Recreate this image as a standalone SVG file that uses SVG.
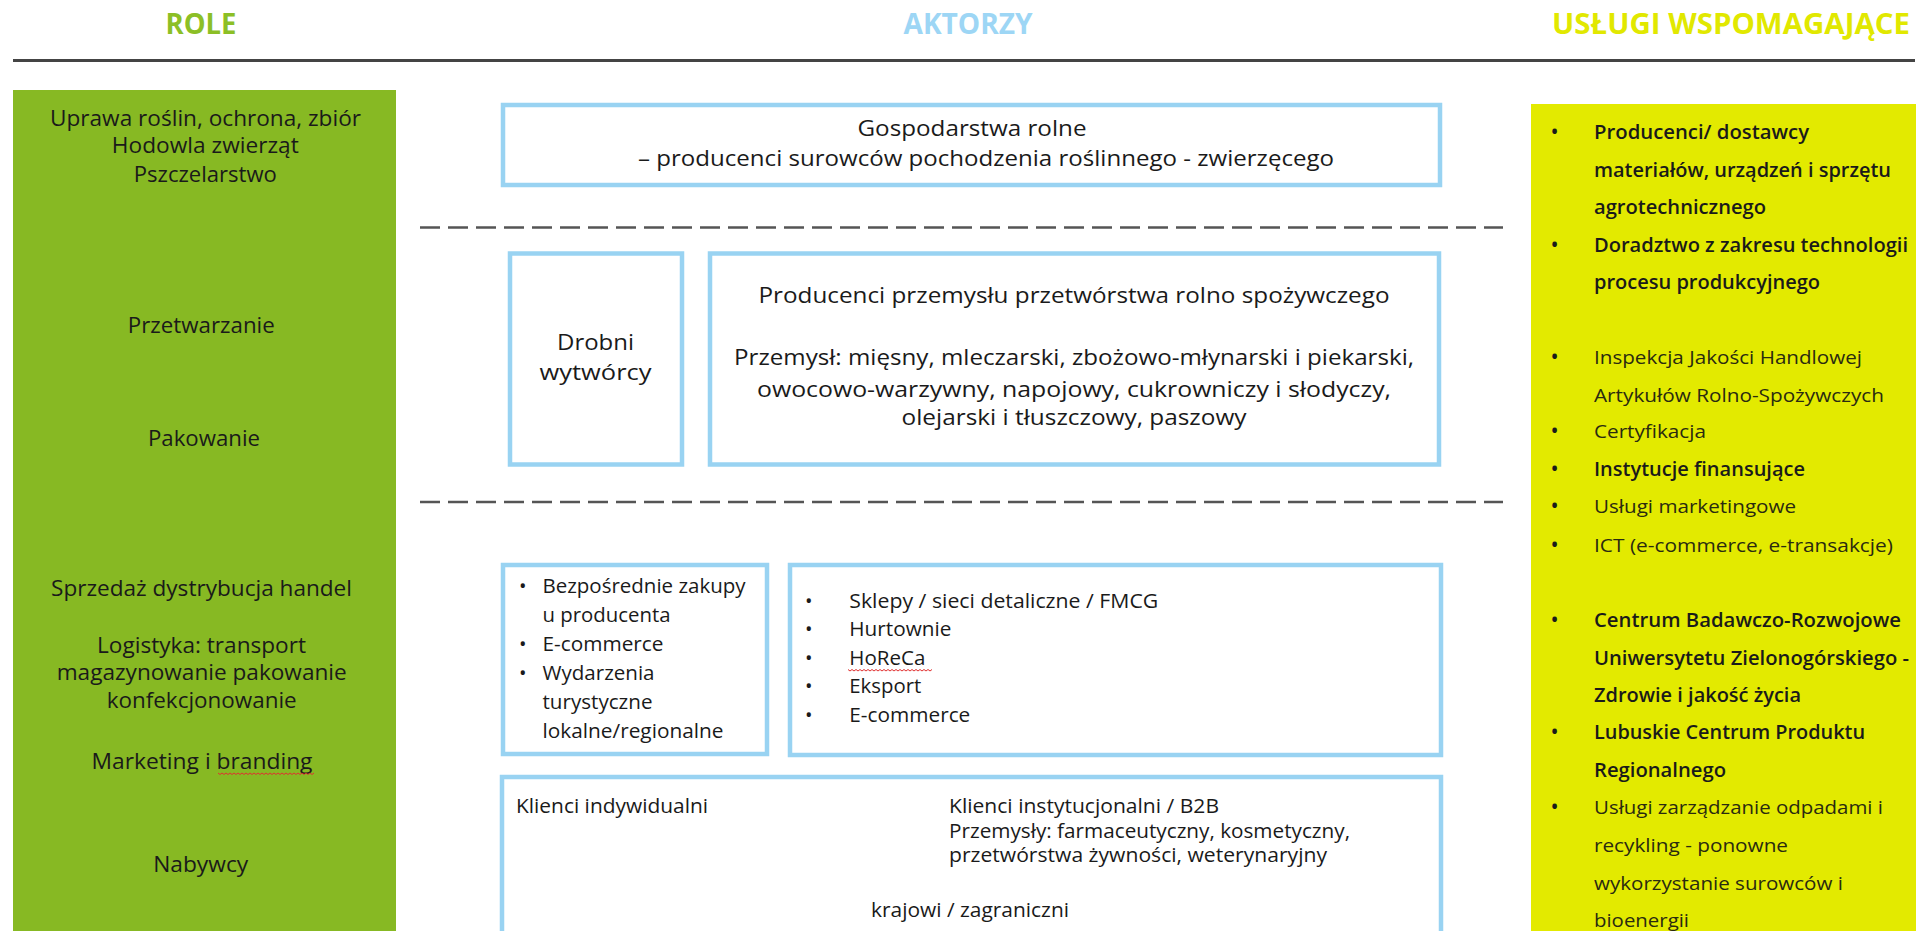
<svg xmlns="http://www.w3.org/2000/svg" width="1928" height="931" viewBox="0 0 1928 931">
<style>
.hdr{font-family:"Open Sans","Liberation Sans",sans-serif;font-weight:bold;font-size:29px;text-anchor:middle}
.role{font-family:"Open Sans","Liberation Sans",sans-serif;font-size:21px;fill:#1a1a1a;text-anchor:middle}
.box{fill:#ffffff;stroke:#99D3F2;stroke-width:4.5}
.act{font-family:"Open Sans","Liberation Sans",sans-serif;font-size:22px;fill:#1a1a1a;text-anchor:middle}
.lst{font-family:"Open Sans","Liberation Sans",sans-serif;font-size:20px;fill:#1a1a1a}
.svb{font-family:"Open Sans","Liberation Sans",sans-serif;font-size:19px;fill:#1a1a1a;font-weight:600}
.svl{font-family:"Open Sans","Liberation Sans",sans-serif;font-size:19px;fill:#2a2a10}
.dash{stroke:#555;stroke-width:2.5;stroke-dasharray:20 8;fill:none}
.wavy{stroke:#e03030;stroke-width:1;fill:none}
</style>

<g id="headers">
<text class="hdr" x="201" y="34" fill="#8CBF26" textLength="71" lengthAdjust="spacingAndGlyphs">ROLE</text>
<text class="hdr" x="968" y="34" fill="#9DD6F5" textLength="129" lengthAdjust="spacingAndGlyphs">AKTORZY</text>
<text class="hdr" x="1731" y="34" fill="#E1E800" textLength="358" lengthAdjust="spacingAndGlyphs">USŁUGI WSPOMAGAJĄCE</text>
<line x1="13" y1="60.5" x2="1915" y2="60.5" stroke="#444" stroke-width="3"/>
</g>

<g id="roles">
<rect x="13" y="90" width="383" height="845" fill="#87B923"/>
<text class="role" x="205.5" y="126" textLength="311" lengthAdjust="spacingAndGlyphs">Uprawa roślin, ochrona, zbiór</text>
<text class="role" x="205.3" y="153" textLength="187" lengthAdjust="spacingAndGlyphs">Hodowla zwierząt</text>
<text class="role" x="205.3" y="181.7" textLength="143" lengthAdjust="spacingAndGlyphs">Pszczelarstwo</text>
<text class="role" x="201.3" y="333" textLength="147" lengthAdjust="spacingAndGlyphs">Przetwarzanie</text>
<text class="role" x="204" y="446" textLength="112" lengthAdjust="spacingAndGlyphs">Pakowanie</text>
<text class="role" x="201.5" y="596" textLength="301" lengthAdjust="spacingAndGlyphs">Sprzedaż dystrybucja handel</text>
<text class="role" x="201.5" y="652.7" textLength="209" lengthAdjust="spacingAndGlyphs">Logistyka: transport</text>
<text class="role" x="201.7" y="680" textLength="290" lengthAdjust="spacingAndGlyphs">magazynowanie pakowanie</text>
<text class="role" x="201.7" y="707.7" textLength="190" lengthAdjust="spacingAndGlyphs">konfekcjonowanie</text>
<text class="role" x="202" y="769" textLength="221" lengthAdjust="spacingAndGlyphs">Marketing i branding</text>
<path class="wavy" d="M218,773 l2,1.5 l2,-1.5 l2,1.5 l2,-1.5 l2,1.5 l2,-1.5 l2,1.5 l2,-1.5 l2,1.5 l2,-1.5 l2,1.5 l2,-1.5 l2,1.5 l2,-1.5 l2,1.5 l2,-1.5 l2,1.5 l2,-1.5 l2,1.5 l2,-1.5 l2,1.5 l2,-1.5 l2,1.5 l2,-1.5 l2,1.5 l2,-1.5 l2,1.5 l2,-1.5 l2,1.5 l2,-1.5 l2,1.5 l2,-1.5 l2,1.5 l2,-1.5 l2,1.5 l2,-1.5 l2,1.5 l2,-1.5 l2,1.5 l2,-1.5 l2,1.5 l2,-1.5 l2,1.5 l2,-1.5 l2,1.5 l2,-1.5 l2,1.5 l2,-1.5"/>
<text class="role" x="200.7" y="871.7" textLength="95" lengthAdjust="spacingAndGlyphs">Nabywcy</text>
</g>

<g id="dividers">
<line class="dash" x1="420" y1="227.5" x2="1503" y2="227.5"/>
<line class="dash" x1="420" y1="502" x2="1503" y2="502"/>
</g>

<g id="gospodarstwa">
<rect class="box" x="503" y="105" width="937" height="80"/>
<text class="act" x="972" y="136" textLength="229" lengthAdjust="spacingAndGlyphs">Gospodarstwa rolne</text>
<text class="act" x="986" y="166" textLength="696" lengthAdjust="spacingAndGlyphs">– producenci surowców pochodzenia roślinnego - zwierzęcego</text>
</g>

<g id="drobni">
<rect class="box" x="510" y="253.5" width="172" height="211"/>
<text class="act" x="595.5" y="350" font-size="23" textLength="77" lengthAdjust="spacingAndGlyphs">Drobni</text>
<text class="act" x="595.5" y="380" font-size="23" textLength="112" lengthAdjust="spacingAndGlyphs">wytwórcy</text>
</g>

<g id="przetworstwo">
<rect class="box" x="710" y="253.5" width="729" height="211"/>
<text class="act" x="1074" y="303" textLength="631" lengthAdjust="spacingAndGlyphs">Producenci przemysłu przetwórstwa rolno spożywczego</text>
<text class="act" x="1074" y="365" textLength="680" lengthAdjust="spacingAndGlyphs">Przemysł: mięsny, mleczarski, zbożowo-młynarski i piekarski,</text>
<text class="act" x="1074" y="396.7" textLength="634" lengthAdjust="spacingAndGlyphs">owocowo-warzywny, napojowy, cukrowniczy i słodyczy,</text>
<text class="act" x="1074" y="425" textLength="345" lengthAdjust="spacingAndGlyphs">olejarski i tłuszczowy, paszowy</text>
</g>

<g id="kanaly-bezposrednie">
<rect class="box" x="503" y="565" width="264" height="189"/>
<text class="lst" x="519" y="593">•</text>
<text class="lst" x="542.5" y="593" textLength="203" lengthAdjust="spacingAndGlyphs">Bezpośrednie zakupy</text>
<text class="lst" x="542.5" y="621.7" textLength="128" lengthAdjust="spacingAndGlyphs">u producenta</text>
<text class="lst" x="519" y="651">•</text>
<text class="lst" x="542.5" y="651" textLength="121" lengthAdjust="spacingAndGlyphs">E-commerce</text>
<text class="lst" x="519" y="680">•</text>
<text class="lst" x="542.5" y="680" textLength="112" lengthAdjust="spacingAndGlyphs">Wydarzenia</text>
<text class="lst" x="542.5" y="709" textLength="110" lengthAdjust="spacingAndGlyphs">turystyczne</text>
<text class="lst" x="542.5" y="738" textLength="181" lengthAdjust="spacingAndGlyphs">lokalne/regionalne</text>
</g>

<g id="kanaly-handlowe">
<rect class="box" x="790" y="565" width="651" height="190"/>
<text class="lst" x="805" y="607.5">•</text>
<text class="lst" x="849.3" y="607.5" textLength="309" lengthAdjust="spacingAndGlyphs">Sklepy / sieci detaliczne / FMCG</text>
<text class="lst" x="805" y="636">•</text>
<text class="lst" x="849.3" y="636" textLength="102" lengthAdjust="spacingAndGlyphs">Hurtownie</text>
<text class="lst" x="805" y="665">•</text>
<text class="lst" x="849.3" y="665" textLength="76" lengthAdjust="spacingAndGlyphs">HoReCa</text>
<path class="wavy" d="M848,669.5 l2,1.5 l2,-1.5 l2,1.5 l2,-1.5 l2,1.5 l2,-1.5 l2,1.5 l2,-1.5 l2,1.5 l2,-1.5 l2,1.5 l2,-1.5 l2,1.5 l2,-1.5 l2,1.5 l2,-1.5 l2,1.5 l2,-1.5 l2,1.5 l2,-1.5 l2,1.5 l2,-1.5 l2,1.5 l2,-1.5 l2,1.5 l2,-1.5 l2,1.5 l2,-1.5 l2,1.5 l2,-1.5 l2,1.5 l2,-1.5 l2,1.5 l2,-1.5 l2,1.5 l2,-1.5 l2,1.5 l2,-1.5 l2,1.5 l2,-1.5 l2,1.5 l2,-1.5"/>
<text class="lst" x="805" y="693.3">•</text>
<text class="lst" x="849.3" y="693.3" textLength="72" lengthAdjust="spacingAndGlyphs">Eksport</text>
<text class="lst" x="805" y="722.3">•</text>
<text class="lst" x="849.3" y="722.3" textLength="121" lengthAdjust="spacingAndGlyphs">E-commerce</text>
</g>

<g id="nabywcy">
<rect class="box" x="502" y="777" width="939" height="170"/>
<text class="lst" x="516" y="813" textLength="192" lengthAdjust="spacingAndGlyphs">Klienci indywidualni</text>
<text class="lst" x="949" y="813" textLength="270" lengthAdjust="spacingAndGlyphs">Klienci instytucjonalni / B2B</text>
<text class="lst" x="949" y="838" textLength="401" lengthAdjust="spacingAndGlyphs">Przemysły: farmaceutyczny, kosmetyczny,</text>
<text class="lst" x="949" y="862" textLength="378" lengthAdjust="spacingAndGlyphs">przetwórstwa żywności, weterynaryjny</text>
<text class="lst" x="871" y="917" textLength="198" lengthAdjust="spacingAndGlyphs">krajowi / zagraniczni</text>
</g>

<g id="uslugi">
<rect x="1531" y="104" width="385" height="830" fill="#E3EA00"/>
<text class="svb" x="1551" y="139.3">•</text>
<text class="svb" x="1594" y="139.3" textLength="215" lengthAdjust="spacingAndGlyphs">Producenci/ dostawcy</text>
<text class="svb" x="1594" y="177.3" textLength="297" lengthAdjust="spacingAndGlyphs">materiałów, urządzeń i sprzętu</text>
<text class="svb" x="1594" y="214" textLength="172" lengthAdjust="spacingAndGlyphs">agrotechnicznego</text>
<text class="svb" x="1551" y="251.7">•</text>
<text class="svb" x="1594" y="251.7" textLength="314" lengthAdjust="spacingAndGlyphs">Doradztwo z zakresu technologii</text>
<text class="svb" x="1594" y="289" textLength="226" lengthAdjust="spacingAndGlyphs">procesu produkcyjnego</text>
<text class="svb" x="1551" y="364">•</text>
<text class="svl" x="1594" y="364" textLength="268" lengthAdjust="spacingAndGlyphs">Inspekcja Jakości Handlowej</text>
<text class="svl" x="1594" y="401.7" textLength="290" lengthAdjust="spacingAndGlyphs">Artykułów Rolno-Spożywczych</text>
<text class="svb" x="1551" y="438.3">•</text>
<text class="svl" x="1594" y="438.3" textLength="112" lengthAdjust="spacingAndGlyphs">Certyfikacja</text>
<text class="svb" x="1551" y="475.7">•</text>
<text class="svb" x="1594" y="475.7" textLength="211" lengthAdjust="spacingAndGlyphs">Instytucje finansujące</text>
<text class="svb" x="1551" y="513.3">•</text>
<text class="svl" x="1594" y="513.3" textLength="202" lengthAdjust="spacingAndGlyphs">Usługi marketingowe</text>
<text class="svb" x="1551" y="552.3">•</text>
<text class="svl" x="1594" y="552.3" textLength="299" lengthAdjust="spacingAndGlyphs">ICT (e-commerce, e-transakcje)</text>
<text class="svb" x="1551" y="627.3">•</text>
<text class="svb" x="1594" y="627.3" textLength="307" lengthAdjust="spacingAndGlyphs">Centrum Badawczo-Rozwojowe</text>
<text class="svb" x="1594" y="665" textLength="315" lengthAdjust="spacingAndGlyphs">Uniwersytetu Zielonogórskiego -</text>
<text class="svb" x="1594" y="701.7" textLength="207" lengthAdjust="spacingAndGlyphs">Zdrowie i jakość życia</text>
<text class="svb" x="1551" y="739">•</text>
<text class="svb" x="1594" y="739" textLength="271" lengthAdjust="spacingAndGlyphs">Lubuskie Centrum Produktu</text>
<text class="svb" x="1594" y="776.7" textLength="132" lengthAdjust="spacingAndGlyphs">Regionalnego</text>
<text class="svb" x="1551" y="814">•</text>
<text class="svl" x="1594" y="814" textLength="289" lengthAdjust="spacingAndGlyphs">Usługi zarządzanie odpadami i</text>
<text class="svl" x="1594" y="851.7" textLength="194" lengthAdjust="spacingAndGlyphs">recykling - ponowne</text>
<text class="svl" x="1594" y="890" textLength="249" lengthAdjust="spacingAndGlyphs">wykorzystanie surowców i</text>
<text class="svl" x="1594" y="927.3" textLength="95" lengthAdjust="spacingAndGlyphs">bioenergii</text>
</g>
</svg>
